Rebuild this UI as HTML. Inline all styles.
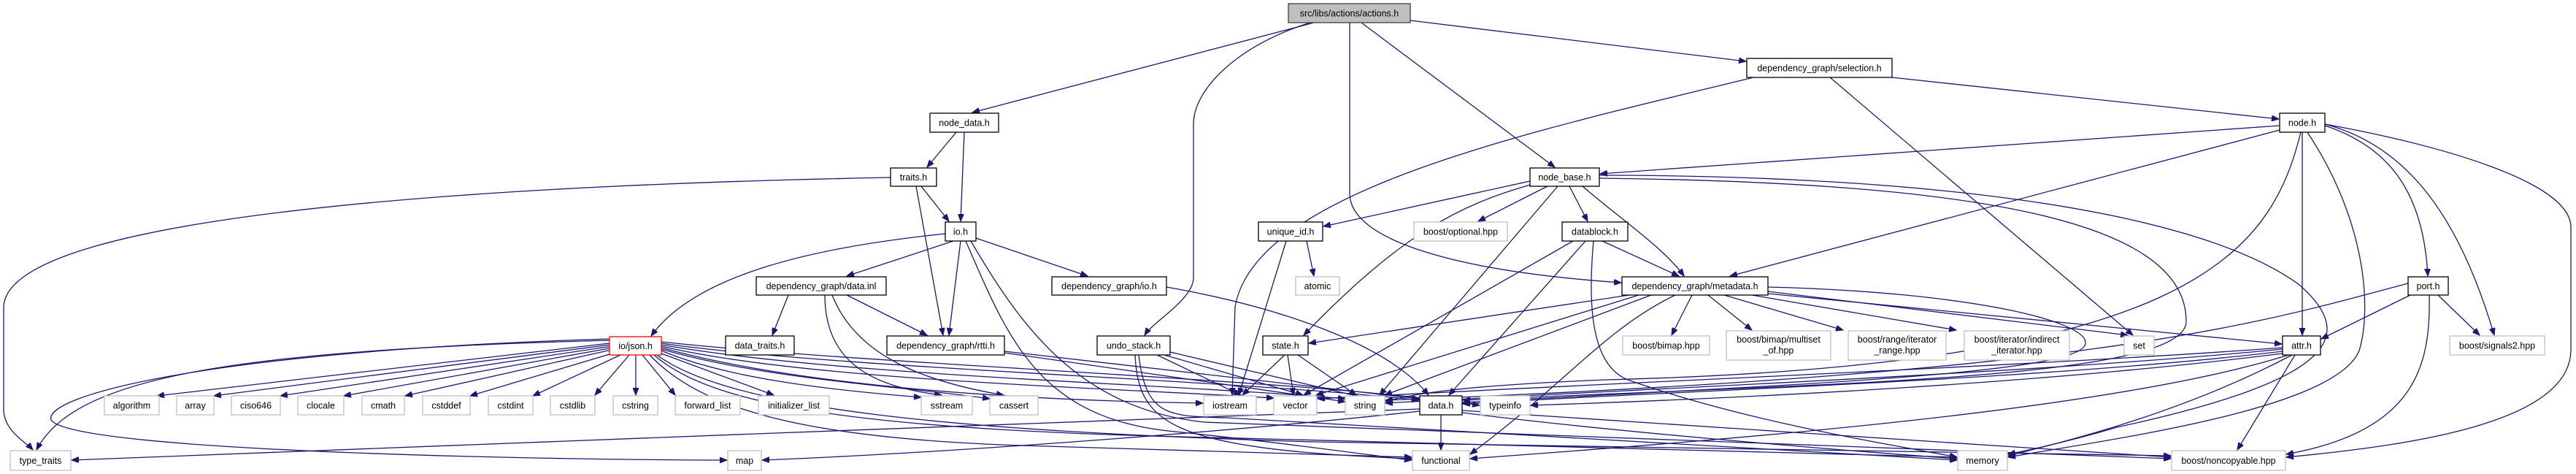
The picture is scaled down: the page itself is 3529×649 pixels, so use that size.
<!DOCTYPE html>
<html><head><meta charset="utf-8"><style>
html,body{margin:0;padding:0;background:#fff;width:3529px;height:649px;overflow:hidden}
svg{display:block}
text{font-family:"Liberation Sans",sans-serif;font-size:12.5px;text-anchor:middle;fill:#000}
.e{fill:none;stroke:#191970;stroke-width:1.3;marker-end:url(#a)}
.n{fill:#fff;stroke:#000;stroke-width:1.3}
.g{fill:#fff;stroke:#bfbfbf;stroke-width:1.3}
</style></head><body>
<svg width="3529" height="649" viewBox="0 0 3529 649" xmlns="http://www.w3.org/2000/svg">
<defs><marker id="a" markerUnits="userSpaceOnUse" markerWidth="11" markerHeight="8" refX="10" refY="4" orient="auto"><path d="M0,0 L10,4 L0,8 z" fill="#191970" stroke="#191970"/></marker></defs>
<g>
<!-- actions -->
<path class="e" d="M1800,31 L1332,154"/>
<path class="e" d="M1795,31 C1700,60 1635,120 1635,170 L1635,380 C1635,410 1580,440 1568,459"/>
<path class="e" d="M1849,31 L1849,265 C1849,330 2000,372 2221,387"/>
<path class="e" d="M1865,31 L2130,229"/>
<path class="e" d="M1932,28 L2392,84"/>
<!-- selection -->
<path class="e" d="M2402,106 C2100,180 1720,260 1692,420 L1688,541"/>
<path class="e" d="M2507,106 L2922,459"/>
<path class="e" d="M2592,106 L3122,163"/>
<!-- node -->
<path class="e" d="M3123,172 L2192,238"/>
<path class="e" d="M3123,178 L2370,378"/>
<path class="e" d="M3152,181 C3110,350 3000,500 2200,520 C2000,528 1930,540 1898,550"/>
<path class="e" d="M3154,181 L3154,459"/>
<path class="e" d="M3161,181 C3240,300 3250,420 3232,480 C3200,560 2900,600 2751,626"/>
<path class="e" d="M3185,172 C3270,200 3320,260 3326,378"/>
<path class="e" d="M3185,170 C3300,200 3370,300 3417,459"/>
<path class="e" d="M3185,170 C3350,200 3520,250 3522,310 L3522,480 C3520,580 3300,610 3132,626"/>
<!-- port -->
<path class="e" d="M3299,388 C3100,440 2900,510 1898,548"/>
<path class="e" d="M3302,404 L3180,464"/>
<path class="e" d="M3328,404 C3330,500 3310,590 3132,622"/>
<path class="e" d="M3340,404 L3397,459"/>
<!-- node_base -->
<path class="e" d="M2096,248 L1813,310"/>
<path class="e" d="M2120,255 L2025,303"/>
<path class="e" d="M2150,255 L2175,303"/>
<path class="e" d="M2168,255 C2220,300 2280,340 2307,378"/>
<path class="e" d="M2100,252 C2000,280 1920,320 1786,459"/>
<path class="e" d="M2134,255 L1890,541"/>
<path class="e" d="M2191,244 C2700,250 2995,300 2995,440 C2995,520 2500,525 2004,548"/>
<path class="e" d="M2191,240 C2600,240 3000,280 3150,390 C3230,460 3200,520 2900,585 C2850,600 2800,612 2751,622"/>
<!-- datablock -->
<path class="e" d="M2195,330 L2300,378"/>
<path class="e" d="M2155,330 L1786,541"/>
<path class="e" d="M2172,330 L1985,541"/>
<path class="e" d="M2183,330 C2175,420 2180,500 2230,520 C2400,580 2600,610 2681,626"/>
<!-- metadata -->
<path class="e" d="M2318,404 L2290,459"/>
<path class="e" d="M2340,404 L2400,452"/>
<path class="e" d="M2362,404 L2525,452"/>
<path class="e" d="M2400,404 L2680,452"/>
<path class="e" d="M2422,399 L2915,459"/>
<path class="e" d="M2422,402 L3126,471"/>
<path class="e" d="M2232,404 L1793,470"/>
<path class="e" d="M2245,404 L1803,541"/>
<path class="e" d="M2262,404 L1897,541"/>
<path class="e" d="M2295,404 C2200,450 2150,520 2014,622"/>
<path class="e" d="M2422,393 C2700,400 2860,440 2857,470 C2855,510 2500,525 2004,551"/>
<!-- unique_id, state, undo -->
<path class="e" d="M1790,330 L1800,378"/>
<path class="e" d="M1762,330 L1697,541"/>
<path class="e" d="M1760,486 L1702,541"/>
<path class="e" d="M1764,486 L1772,541"/>
<path class="e" d="M1778,486 L1858,541"/>
<path class="e" d="M1585,486 L1700,541"/>
<path class="e" d="M1595,486 L1785,541"/>
<path class="e" d="M1603,482 L1862,543"/>
<path class="e" d="M1555,486 C1560,580 1600,615 1934,628"/>
<path class="e" d="M1560,486 C1570,570 1600,570 1680,572 L2681,630"/>
<!-- dgio, rtti -->
<path class="e" d="M1598,393 C1750,420 1900,470 1957,541"/>
<path class="e" d="M1376,483 L1843,550"/>
<path class="e" d="M1376,481 L1944,546"/>
<!-- io -->
<path class="e" d="M1295,320 C1100,340 950,380 892,460"/>
<path class="e" d="M1306,330 L1160,378"/>
<path class="e" d="M1316,330 L1300,459"/>
<path class="e" d="M1337,326 L1490,378"/>
<path class="e" d="M1323,330 C1380,460 1420,570 1600,590 C1750,605 1850,620 1934,630"/>
<path class="e" d="M1330,330 C1400,450 1480,560 1650,578 L2974,628"/>
<!-- node_data, traits -->
<path class="e" d="M1310,181 L1270,229"/>
<path class="e" d="M1321,181 L1316,303"/>
<path class="e" d="M1262,255 L1300,303"/>
<path class="e" d="M1255,255 L1292,459"/>
<path class="e" d="M1220,243 C600,255 10,300 5,420 L5,560 C5,590 35,605 45,616"/>
<!-- data.inl -->
<path class="e" d="M1080,404 L1058,459"/>
<path class="e" d="M1160,404 L1270,459"/>
<path class="e" d="M1130,404 C1130,500 1200,530 1290,541"/>
<path class="e" d="M1140,404 C1170,480 1250,520 1375,541"/>
<!-- json -->
<path class="e" d="M835,470 L215,542"/>
<path class="e" d="M836,472 L293,542"/>
<path class="e" d="M838,474 L384,542"/>
<path class="e" d="M840,476 L471,542"/>
<path class="e" d="M842,478 L555,542"/>
<path class="e" d="M845,482 L644,542"/>
<path class="e" d="M850,486 L730,542"/>
<path class="e" d="M862,486 L815,541"/>
<path class="e" d="M871,486 L871,541"/>
<path class="e" d="M880,486 L925,541"/>
<path class="e" d="M906,484 L1060,541"/>
<path class="e" d="M906,480 C1000,520 1150,535 1262,544"/>
<path class="e" d="M906,478 C1050,520 1250,530 1356,546"/>
<path class="e" d="M906,476 C1100,530 1400,548 1648,552"/>
<path class="e" d="M906,474 C1100,520 1500,530 1745,545"/>
<path class="e" d="M906,472 C1150,515 1600,525 1843,546"/>
<path class="e" d="M906,470 C1150,505 1700,520 1944,548"/>
<path class="e" d="M906,468 C1200,500 1800,520 2027,555"/>
<path class="e" d="M835,466 C300,480 100,520 50,616"/>
<path class="e" d="M835,464 C300,480 60,540 70,575 C100,620 800,630 996,630"/>
<path class="e" d="M890,486 C960,560 1100,600 1400,610 L1934,626"/>
<path class="e" d="M896,486 C980,560 1200,590 1700,600 L2681,626"/>
<path class="e" d="M900,486 C1000,560 1300,590 1800,605 L2974,624"/>
<!-- data.h -->
<path class="e" d="M1974,568 L1974,616"/>
<path class="e" d="M1945,563 C1700,590 1300,620 1044,630"/>
<path class="e" d="M1945,560 C1500,580 500,610 98,630"/>
<path class="e" d="M2003,565 C2200,590 2500,615 2681,628"/>
<path class="e" d="M2003,562 C2300,580 2700,610 2974,626"/>
<!-- attr -->
<path class="e" d="M3127,478 C2800,510 2300,530 1898,552"/>
<path class="e" d="M3127,476 C2800,500 2300,520 1805,546"/>
<path class="e" d="M3127,481 C2800,520 2300,535 2004,553"/>
<path class="e" d="M3127,484 C2800,525 2400,545 2097,555"/>
<path class="e" d="M3135,486 C2900,560 2400,600 2014,628"/>
<path class="e" d="M3140,486 C3000,560 2850,600 2751,624"/>
<path class="e" d="M3144,486 L3065,616"/>
</g>
<g>
<rect x="1765" y="5" width="167" height="26" fill="#bfbfbf" stroke="#404040" stroke-width="1.3"/><text x="1848.5" y="22.5">src/libs/actions/actions.h</text>
<rect class="n" x="1274" y="155" width="94" height="26"/><text x="1321" y="172.5">node_data.h</text>
<rect class="n" x="2393" y="80" width="199" height="26"/><text x="2492.5" y="97.5">dependency_graph/selection.h</text>
<rect class="n" x="3123" y="155" width="62" height="26"/><text x="3154" y="172.5">node.h</text>
<rect class="n" x="1220" y="230" width="63" height="25"/><text x="1251.5" y="247">traits.h</text>
<rect class="n" x="2096" y="230" width="95" height="25"/><text x="2143.5" y="247">node_base.h</text>
<rect class="n" x="1295" y="304" width="42" height="26"/><text x="1316" y="321.5">io.h</text>
<rect class="n" x="1724" y="304" width="88" height="26"/><text x="1768" y="321.5">unique_id.h</text>
<rect class="g" x="1937" y="304" width="128" height="26"/><text x="2001" y="321.5">boost/optional.hpp</text>
<rect class="n" x="2140" y="304" width="90" height="26"/><text x="2185" y="321.5">datablock.h</text>
<rect class="n" x="1036" y="379" width="178" height="25"/><text x="1125" y="396">dependency_graph/data.inl</text>
<rect class="n" x="1441" y="379" width="157" height="25"/><text x="1519.5" y="396">dependency_graph/io.h</text>
<rect class="g" x="1775" y="379" width="60" height="25"/><text x="1805" y="396">atomic</text>
<rect class="n" x="2222" y="379" width="200" height="25"/><text x="2322" y="396">dependency_graph/metadata.h</text>
<rect class="n" x="3299" y="379" width="55" height="25"/><text x="3326.5" y="396">port.h</text>
<rect x="835" y="461" width="71" height="25" fill="#fff" stroke="#ff0000" stroke-width="1.3"/><text x="870.5" y="478">io/json.h</text>
<rect class="n" x="994" y="460" width="94" height="26"/><text x="1041" y="477.5">data_traits.h</text>
<rect class="n" x="1215" y="460" width="161" height="26"/><text x="1295.5" y="477.5">dependency_graph/rtti.h</text>
<rect class="n" x="1503" y="460" width="100" height="26"/><text x="1553" y="477.5">undo_stack.h</text>
<rect class="n" x="1730" y="460" width="62" height="26"/><text x="1761" y="477.5">state.h</text>
<rect class="g" x="2223" y="460" width="119" height="26"/><text x="2282.5" y="477.5">boost/bimap.hpp</text>
<rect class="g" x="2365" y="453" width="143" height="40"/><text x="2436.5" y="469">boost/bimap/multiset</text><text x="2436.5" y="484">_of.hpp</text>
<rect class="g" x="2532" y="453" width="134" height="40"/><text x="2599" y="469">boost/range/iterator</text><text x="2599" y="484">_range.hpp</text>
<rect class="g" x="2691" y="453" width="144" height="40"/><text x="2763" y="469">boost/iterator/indirect</text><text x="2763" y="484">_iterator.hpp</text>
<rect class="g" x="2910" y="460" width="41" height="26"/><text x="2930.5" y="477.5">set</text>
<rect class="n" x="3127" y="460" width="52" height="26"/><text x="3153" y="477.5">attr.h</text>
<rect class="g" x="3356" y="460" width="130" height="26"/><text x="3421" y="477.5">boost/signals2.hpp</text>
<rect class="g" x="143" y="542" width="75" height="26"/><text x="180.5" y="559.5">algorithm</text>
<rect class="g" x="242" y="542" width="51" height="26"/><text x="267.5" y="559.5">array</text>
<rect class="g" x="317" y="542" width="67" height="26"/><text x="350.5" y="559.5">ciso646</text>
<rect class="g" x="408" y="542" width="63" height="26"/><text x="439.5" y="559.5">clocale</text>
<rect class="g" x="496" y="542" width="58" height="26"/><text x="525" y="559.5">cmath</text>
<rect class="g" x="579" y="542" width="65" height="26"/><text x="611.5" y="559.5">cstddef</text>
<rect class="g" x="669" y="542" width="61" height="26"/><text x="699.5" y="559.5">cstdint</text>
<rect class="g" x="754" y="542" width="61" height="26"/><text x="784.5" y="559.5">cstdlib</text>
<rect class="g" x="840" y="542" width="61" height="26"/><text x="870.5" y="559.5">cstring</text>
<rect class="g" x="925" y="542" width="89" height="26"/><text x="969.5" y="559.5">forward_list</text>
<rect class="g" x="1039" y="542" width="97" height="26"/><text x="1087.5" y="559.5">initializer_list</text>
<rect class="g" x="1262" y="542" width="70" height="26"/><text x="1297" y="559.5">sstream</text>
<rect class="g" x="1356" y="542" width="66" height="26"/><text x="1389" y="559.5">cassert</text>
<rect class="g" x="1649" y="542" width="72" height="26"/><text x="1685" y="559.5">iostream</text>
<rect class="g" x="1745" y="542" width="59" height="26"/><text x="1774.5" y="559.5">vector</text>
<rect class="g" x="1843" y="542" width="54" height="26"/><text x="1870" y="559.5">string</text>
<rect class="n" x="1945" y="542" width="58" height="26"/><text x="1974" y="559.5">data.h</text>
<rect class="g" x="2028" y="542" width="68" height="26"/><text x="2062" y="559.5">typeinfo</text>
<rect class="g" x="14" y="617" width="83" height="27"/><text x="55.5" y="635">type_traits</text>
<rect class="g" x="997" y="617" width="46" height="27"/><text x="1020" y="635">map</text>
<rect class="g" x="1935" y="617" width="78" height="27"/><text x="1974" y="635">functional</text>
<rect class="g" x="2682" y="617" width="68" height="27"/><text x="2716" y="635">memory</text>
<rect class="g" x="2975" y="617" width="156" height="27"/><text x="3053" y="635">boost/noncopyable.hpp</text>
</g>
</svg>
</body></html>
